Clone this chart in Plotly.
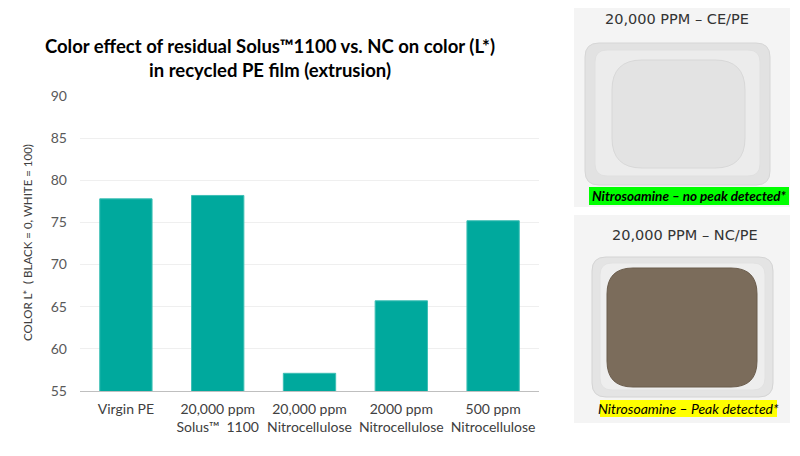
import plotly.graph_objects as go

# chart data
categories = ["Virgin PE", "20,000 ppm<br>Solus\u2122  1100", "20,000 ppm<br>Nitrocellulose",
              "2000 ppm<br>Nitrocellulose", "500 ppm<br>Nitrocellulose"]
color_l = [77.8, 78.2, 57.1, 65.7, 75.2]
y_ticks = [55, 60, 65, 70, 75, 80, 85, 90]

TEAL = "#00A99D"
OFF = 8  # the page body has an 8px margin
W, H = 800 - OFF, 456 - OFF
# plot area in page pixels
X0, X1, Y0, Y1 = 80, 539, 96, 391


def px(x):
    return (x - X0) / (X1 - X0)


def py(y):
    return (Y1 - y) / (Y1 - Y0)


def rrect(x0, y0, x1, y1, r):
    # rounded rectangle path in paper coords, input in pixels
    pts = [
        f"M {px(x0 + r)},{py(y0)}",
        f"L {px(x1 - r)},{py(y0)}",
        f"Q {px(x1)},{py(y0)} {px(x1)},{py(y0 + r)}",
        f"L {px(x1)},{py(y1 - r)}",
        f"Q {px(x1)},{py(y1)} {px(x1 - r)},{py(y1)}",
        f"L {px(x0 + r)},{py(y1)}",
        f"Q {px(x0)},{py(y1)} {px(x0)},{py(y1 - r)}",
        f"L {px(x0)},{py(y0 + r)}",
        f"Q {px(x0)},{py(y0)} {px(x0 + r)},{py(y0)}",
        "Z",
    ]
    return " ".join(pts)


def box(x0, y0, x1, y1, fill):
    return dict(type="rect", xref="paper", yref="paper", x0=px(x0), x1=px(x1),
                y0=py(y1), y1=py(y0), fillcolor=fill, line=dict(width=0), layer="above")


def tray(x0, y0, x1, y1, r, fill, line):
    return dict(type="path", xref="paper", yref="paper", path=rrect(x0, y0, x1, y1, r),
                fillcolor=fill, line=dict(color=line, width=1), layer="above")


def label(text, x, y, size, family="Lato", color="#000000", angle=0):
    return dict(text=text, x=px(x), y=py(y), xref="paper", yref="paper", showarrow=False,
                xanchor="center", yanchor="middle", textangle=angle,
                font=dict(family=family, size=size, color=color))


fig = go.Figure()
fig.add_trace(go.Bar(
    x=categories, y=color_l, marker=dict(color=TEAL, line=dict(color="#3DBFB5", width=1)),
    hoverinfo="x+y",
))

shapes = [
    # photo panels
    box(574, OFF, 790, 207, "#F4F4F4"),
    box(574, 215, 790, 423, "#F4F4F4"),
    # top tray (CE/PE)
    tray(585, 43, 770, 185, 14, "#E2E2E2", "#D6D6D6"),
    tray(595, 50, 760, 176, 12, "#ECECEC", "#E0E0E0"),
    tray(612, 60, 745, 168, 30, "#E3E3E3", "#D8D8D8"),
    # bottom tray (NC/PE)
    tray(592, 257, 773, 397, 14, "#E4E4E4", "#D4D4D4"),
    tray(600, 263, 765, 390, 12, "#EEEEEE", "#E2E2E2"),
    tray(607, 268, 757, 387, 26, "#7B6C5B", "#6A5C4C"),
    # label highlights
    box(589, 187, 789, 205, "#00FF00"),
    box(600, 400, 777, 417, "#FFFF00"),
]

annotations = [
    label("20,000 PPM \u2013 CE/PE", 677, 19, 14.5, family="DejaVu Sans", color="#333333"),
    label("20,000 PPM \u2013 NC/PE", 685, 235, 14.5, family="DejaVu Sans", color="#333333"),
    label("<b><i>Nitrosoamine \u2013 no peak detected*</i></b>", 689, 196, 13.5),
    label("<i>Nitrosoamine \u2013 Peak detected*</i>", 688, 408.5, 14),
    label("COLOR L*  ( BLACK = 0, WHITE = 100)", 27, 243, 11.5, color="#404040", angle=-90),
]

fig.update_layout(
    width=W, height=H,
    margin=dict(l=X0 - OFF, r=800 - X1, t=Y0 - OFF, b=456 - Y1),
    paper_bgcolor="white", plot_bgcolor="white",
    font=dict(family="Lato", size=14, color="#404040"),
    title=dict(
        text="<b>Color effect of residual Solus\u21221100 vs. NC on color (L*)<br>in recycled PE film (extrusion)</b>",
        x=px(270), xanchor="center", xref="paper", y=1 - (53 - OFF) / H, yanchor="middle",
        font=dict(family="Lato", size=18.5, color="#000000"),
    ),
    bargap=0.43,
    showlegend=False,
    shapes=shapes,
    annotations=annotations,
)
fig.update_xaxes(showline=True, linecolor="#BFBFBF", linewidth=1, ticks="",
                 tickfont=dict(size=14, color="#404040"), ticklabelstandoff=5,
                 fixedrange=True)
fig.update_yaxes(range=[55, 90], tickvals=y_ticks, showgrid=True, gridcolor="#EFEFEF",
                 zeroline=False, tickfont=dict(size=14, color="#595959"), ticks="",
                 ticklabelstandoff=12, fixedrange=True)

fig.write_html("out.html")
